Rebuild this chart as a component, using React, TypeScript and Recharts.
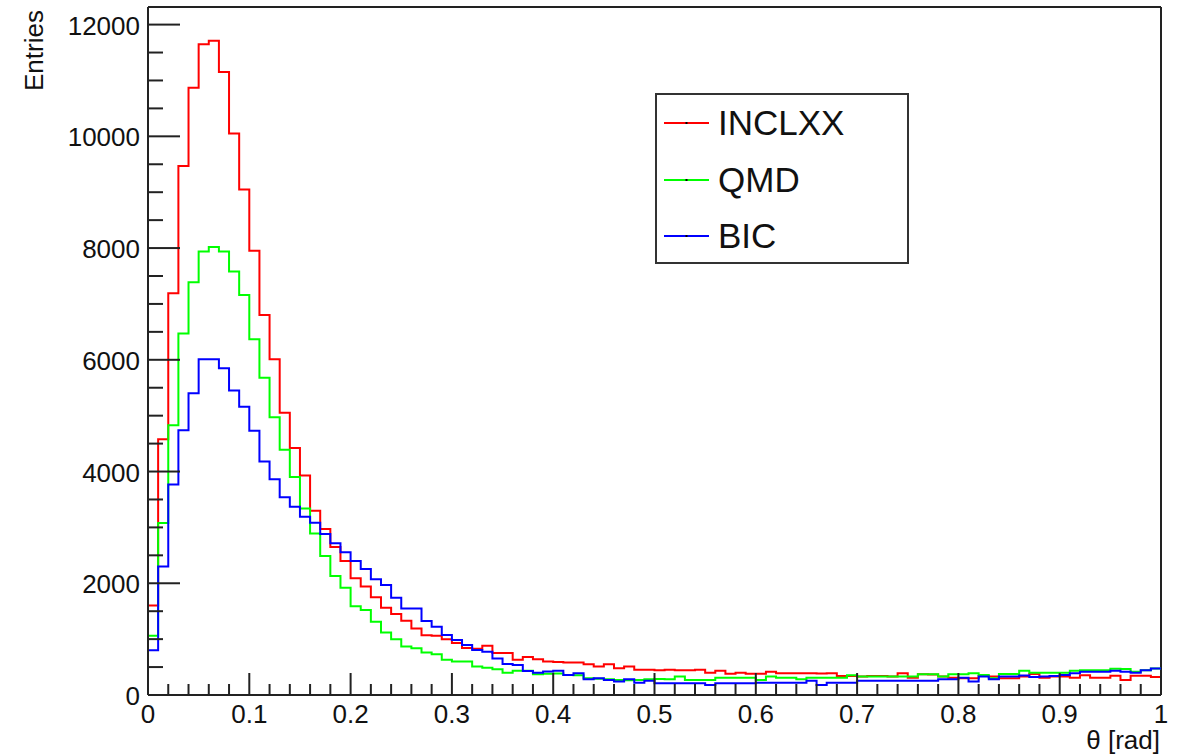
import { Legend, Line, LineChart, ReferenceLine, XAxis, YAxis } from "recharts";

// theta distribution, 100 bins from 0 to 1 rad
const inclxx = [
  1600, 4580, 7190, 9470, 10870, 11650, 11710, 11150, 10050, 9050,
  7950, 6800, 6010, 5050, 4420, 3930, 3300, 2970, 2650, 2400,
  2090, 1940, 1750, 1560, 1450, 1330, 1190, 1070, 1060, 1000,
  930, 840, 830, 880, 750, 750, 630, 680, 640, 600,
  590, 580, 580, 550, 510, 550, 480, 510, 450, 450,
  445, 450, 445, 445, 450, 400, 435, 380, 400, 380,
  380, 415, 390, 390, 390, 390, 385, 390, 340, 340,
  330, 340, 340, 330, 390, 310, 370, 365, 330, 310,
  300, 300, 340, 330, 300, 300, 330, 375, 310, 330,
  330, 310, 355, 310, 310, 345, 270, 345, 345, 320,
];

const qmd = [
  1060, 3080, 4830, 6470, 7390, 7940, 8020, 7940, 7580, 7160,
  6370, 5680, 4970, 4390, 3900, 3340, 2890, 2490, 2130, 1920,
  1590, 1520, 1310, 1120, 1000, 870, 835, 760, 730, 630,
  600, 600, 510, 490, 460, 400, 435, 435, 370, 380,
  385, 360, 355, 300, 290, 280, 270, 265, 270, 280,
  285, 280, 330, 270, 270, 270, 310, 310, 310, 310,
  270, 330, 310, 310, 280, 310, 310, 310, 310, 355,
  330, 330, 330, 330, 330, 330, 370, 370, 330, 370,
  370, 390, 360, 300, 375, 375, 435, 400, 400, 400,
  400, 435, 445, 445, 445, 470, 465, 415, 445, 475,
];

const bic = [
  800, 2300, 3770, 4740, 5400, 6010, 6010, 5850, 5450, 5160,
  4730, 4180, 3860, 3540, 3370, 3190, 3085, 2880, 2715, 2555,
  2400, 2255, 2070, 1970, 1740, 1550, 1550, 1325, 1220, 1075,
  985, 895, 805, 775, 655, 555, 535, 430, 400, 420,
  435, 360, 390, 280, 300, 270, 240, 280, 220, 255,
  210, 210, 210, 210, 210, 180, 210, 210, 210, 210,
  220, 220, 220, 220, 220, 255, 180, 220, 220, 220,
  255, 255, 255, 255, 255, 255, 255, 255, 280, 280,
  310, 240, 330, 280, 330, 330, 350, 320, 330, 340,
  360, 390, 415, 415, 415, 435, 415, 400, 445, 475,
];

const legendOrder = ["INCLXX", "QMD", "BIC"];
const xMajorTicks = [0, 0.1, 0.2, 0.3, 0.4, 0.5, 0.6, 0.7, 0.8, 0.9, 1];
const yMajorTicks = [0, 2000, 4000, 6000, 8000, 10000, 12000];
const yMax = 12315;

const FONT = '"Liberation Sans", Arial, Helvetica, sans-serif';
const AXIS = "#222";

const nBins = inclxx.length;
// one point per lower bin edge, plus the upper edge of the last bin
const data = Array.from({ length: nBins + 1 }, (_, i) => {
  const j = Math.min(i, nBins - 1);
  return { x: i / nBins, inclxx: inclxx[j], qmd: qmd[j], bic: bic[j] };
});

// minor ticks: 5 per major on x, 4 per major on y
const xTicks = xMajorTicks.slice(0, -1).flatMap((t, i) => {
  const step = (xMajorTicks[i + 1] - t) / 5;
  return [0, 1, 2, 3, 4].map((k) => t + k * step);
}).concat([1]);
const yTicks = yMajorTicks.slice(0, -1).flatMap((t, i) => {
  const step = (yMajorTicks[i + 1] - t) / 4;
  return [0, 1, 2, 3].map((k) => t + k * step);
}).concat([12000]);

const isMajor = (list: number[], v: number) => list.some((m) => Math.abs(m - v) < 1e-6);

function XTick({ x, y, payload }: any) {
  const v = payload.value;
  const major = isMajor(xMajorTicks, v);
  return (
    <g>
      <line x1={x} x2={x} y1={y} y2={y - (major ? 22 : 11)} stroke={AXIS} strokeWidth={2} />
      {major && (
        <text x={x} y={y + 28} textAnchor="middle" fontSize={26} fontFamily={FONT} fill="#111">
          {String(Math.round(v * 10) / 10)}
        </text>
      )}
    </g>
  );
}

function YTick({ x, y, payload }: any) {
  const v = payload.value;
  const major = isMajor(yMajorTicks, v);
  return (
    <g>
      <line x1={x} x2={x + (major ? 32 : 15)} y1={y} y2={y} stroke={AXIS} strokeWidth={2} />
      {major && (
        <text x={x - 8} y={y + 10} textAnchor="end" fontSize={26} fontFamily={FONT} fill="#111">
          {v}
        </text>
      )}
    </g>
  );
}

function HistLegend({ payload }: any) {
  const items = legendOrder
    .map((name) => (payload || []).find((p: any) => p.value === name))
    .filter(Boolean);
  return (
    <div
      style={{
        width: 254,
        height: 171,
        border: "2px solid #333",
        boxSizing: "border-box",
        background: "#fff",
        fontFamily: FONT,
      }}
    >
      {items.map((p: any) => (
        <div key={p.value} style={{ height: 56.5, display: "flex", alignItems: "center" }}>
          <svg width={60} height={10}>
            <line x1={7} x2={52} y1={5} y2={5} stroke={p.color} strokeWidth={2} />
            <rect x={28.5} y={4} width={2} height={2} fill="#000" />
          </svg>
          <span style={{ fontSize: 35, marginLeft: 1, color: "#111" }}>{p.value}</span>
        </div>
      ))}
    </div>
  );
}

export default function App() {
  return (
    <div style={{ position: "absolute", left: 0, top: 0, background: "#fff" }}>
      <LineChart width={1184} height={755} data={data} margin={{ top: 7, right: 23, left: 0, bottom: 0 }}>
        <XAxis
          dataKey="x"
          type="number"
          domain={[0, 1]}
          ticks={xTicks}
          interval={0}
          height={60}
          tickSize={0}
          tickMargin={0}
          tickLine={false}
          axisLine={{ stroke: AXIS, strokeWidth: 2 }}
          tick={<XTick />}
          label={{
            content: () => (
              <text x={1160} y={749} textAnchor="end" fontSize={26} fontFamily={FONT} fill="#111">
                θ [rad]
              </text>
            ),
          }}
        />
        <YAxis
          type="number"
          domain={[0, yMax]}
          ticks={yTicks}
          interval={0}
          width={148}
          tickSize={0}
          tickMargin={0}
          tickLine={false}
          axisLine={{ stroke: AXIS, strokeWidth: 2 }}
          tick={<YTick />}
          label={{
            content: () => (
              <text
                transform="translate(43, 91) rotate(-90)"
                textAnchor="start"
                fontSize={26}
                fontFamily={FONT}
                fill="#111"
              >
                Entries
              </text>
            ),
          }}
        />
        <ReferenceLine y={yMax} stroke={AXIS} strokeWidth={2} />
        <ReferenceLine x={1} stroke={AXIS} strokeWidth={2} />
        <Legend
          layout="vertical"
          align="center"
          verticalAlign="middle"
          content={<HistLegend />}
          wrapperStyle={{ left: 655, top: 93, width: 254, height: 171 }}
        />
        <Line name="INCLXX" dataKey="inclxx" type="stepAfter" stroke="#ff0000" strokeWidth={2} dot={false} isAnimationActive={false} />
        <Line name="QMD" dataKey="qmd" type="stepAfter" stroke="#00ff00" strokeWidth={2} dot={false} isAnimationActive={false} />
        <Line name="BIC" dataKey="bic" type="stepAfter" stroke="#0000ff" strokeWidth={2} dot={false} isAnimationActive={false} />
      </LineChart>
    </div>
  );
}
